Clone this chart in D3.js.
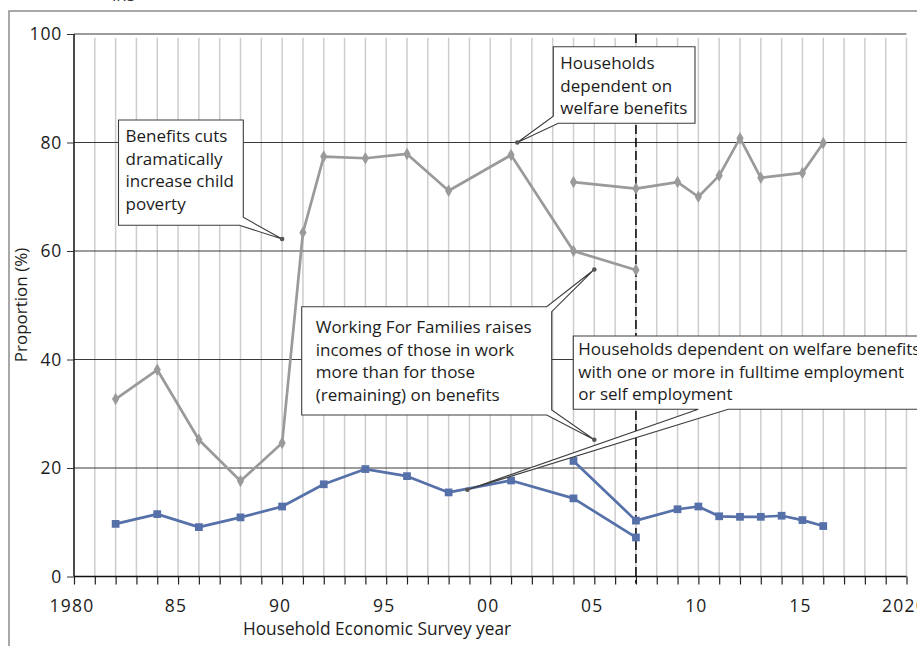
<!DOCTYPE html>
<html><head><meta charset="utf-8">
<script src="https://cdn.jsdelivr.net/npm/d3@7/dist/d3.min.js"></script>
<style>
html,body{margin:0;padding:0;background:#fff;}
svg{display:block;font-family:"Open Sans",sans-serif;}
</style></head>
<body><svg id="c" width="917" height="646"></svg>
<script>
// ---- data ----
const welfareYearsA = [1982,1984,1986,1988,1990,1991,1992,1994,1996,1998,2001,2004,2007];
const welfareValsA  = [32.7,38.1,25.2,17.6,24.6,63.4,77.4,77.1,77.9,71.1,77.7,60.0,56.5];
const welfareYearsB = [2004,2007,2009,2010,2011,2012,2013,2015,2016];
const welfareValsB  = [72.7,71.5,72.7,70.0,73.9,80.8,73.5,74.4,79.9];
const employedYearsA = [1982,1984,1986,1988,1990,1992,1994,1996,1998,2001,2004,2007];
const employedValsA  = [9.7,11.5,9.1,10.9,12.9,17.0,19.8,18.5,15.5,17.7,14.4,7.2];
const employedYearsB = [2004,2007,2009,2010,2011,2012,2013,2014,2015,2016];
const employedValsB  = [21.3,10.3,12.4,12.9,11.1,11.0,11.0,11.2,10.4,9.3];
const xTickYears  = [1980,1985,1990,1995,2000,2005,2010,2015,2020];
const xTickLabels = ["1980","85","90","95","00","05","10","15","2020"];
const yTicks = [0,20,40,60,80,100];
const breakYear = 2007;
const calloutTexts = [
  ["Benefits cuts","dramatically","increase child","poverty"],
  ["Households","dependent on","welfare benefits"],
  ["Working For Families raises","incomes of those in work","more than for those","(remaining) on benefits"],
  ["Households dependent on welfare benefits","with one or more in fulltime employment","or self employment"]
];
const calloutTipYears = [1990, 2001.3, 2005, 2005, 1998.9];
const calloutTipVals  = [62.2, 80.0, 56.6, 25.2, 16.0];

// ---- layout ----
const svg = d3.select("#c");
const x = d3.scaleLinear().domain([1980,2020]).range([74,906.5]);
const y = d3.scaleLinear().domain([0,100]).range([576.5,34]);
const GRAY = "#9a9a9a", BLUE = "#5670a9", INK = "#1c1c1c";

// frame
svg.append("path").attr("d","M9,646 V11 H917").attr("fill","none").attr("stroke","#8c8c8c").attr("stroke-width",1.5);
svg.append("text").attr("x",112).attr("y",1).attr("font-size",17).attr("fill","#333").text("ins");

// vertical gridlines each year
const years = d3.range(1981,2021);
svg.append("g").selectAll("line").data(years).join("line")
  .attr("x1",d=>x(d)).attr("x2",d=>x(d)).attr("y1",y(99.3)).attr("y2",y(0))
  .attr("stroke","#cdcdcd").attr("stroke-width",1.5);

// horizontal gridlines
svg.append("g").selectAll("line").data(yTicks.filter(d=>d>0)).join("line")
  .attr("x1",x(1980)).attr("x2",x(2020)).attr("y1",d=>y(d)).attr("y2",d=>y(d))
  .attr("stroke","#3a3a3a").attr("stroke-width",1.1);

// y axis
const yAxis = d3.axisLeft(y).tickValues(yTicks).tickSize(7).tickPadding(5).tickFormat(d3.format("d"));
const gy = svg.append("g").attr("transform",`translate(${x(1980)},0)`).call(yAxis);
gy.select(".domain").attr("stroke","#111").attr("stroke-width",1.5).attr("d",`M0,${y(100)}V${y(0)}`);
gy.selectAll(".tick line").attr("stroke","#333");
gy.selectAll(".tick text").attr("font-family","Open Sans").attr("font-size",17.5).attr("fill",INK).attr("letter-spacing",0.8);

// x axis
const xAxis = d3.axisBottom(x).tickValues(d3.range(1980,2021)).tickSize(8).tickFormat("");
const gx = svg.append("g").attr("transform",`translate(0,${y(0)})`).call(xAxis);
gx.select(".domain").attr("stroke","#111").attr("stroke-width",1.5).attr("d",`M${x(1980)},0H${x(2020)}`);
gx.selectAll(".tick line").attr("stroke","#222").attr("stroke-width",1.2);
svg.append("g").selectAll("text").data(xTickYears).join("text")
  .attr("x",d=>x(d)-2).attr("y",612).attr("text-anchor","middle")
  .attr("font-size",17.5).attr("fill",INK).attr("letter-spacing",1.2)
  .text((d,i)=>xTickLabels[i]);

// axis titles
svg.append("text").attr("x",377).attr("y",635).attr("text-anchor","middle")
  .attr("font-size",17.3).attr("fill",INK).text("Household Economic Survey year");
svg.append("text").attr("transform","translate(27,305) rotate(-90)").attr("text-anchor","middle")
  .attr("font-size",17).attr("fill",INK).text("Proportion (%)");

// break line
svg.append("line").attr("x1",x(breakYear)).attr("x2",x(breakYear)).attr("y1",y(100)).attr("y2",y(0)+7)
  .attr("stroke","#111").attr("stroke-width",1.6).attr("stroke-dasharray","9,4");

// series
const line = d3.line().x(d=>x(d[0])).y(d=>y(d[1]));
function series(years, vals, color, shape, size){
  const pts = years.map((yr,i)=>[yr, vals[i]]);
  svg.append("path").datum(pts).attr("d",line).attr("fill","none")
    .attr("stroke",color).attr("stroke-width",2.7).attr("stroke-linejoin","round");
  svg.append("g").selectAll("path").data(pts).join("path")
    .attr("transform",d=>`translate(${x(d[0])},${y(d[1])})`)
    .attr("d",d3.symbol().type(shape).size(size)).attr("fill",color);
}
series(welfareYearsA, welfareValsA, GRAY, d3.symbolDiamond, 45);
series(welfareYearsB, welfareValsB, GRAY, d3.symbolDiamond, 45);
series(employedYearsA, employedValsA, BLUE, d3.symbolSquare, 60);
series(employedYearsB, employedValsB, BLUE, d3.symbolSquare, 60);

// callouts
const tip = i => [x(calloutTipYears[i]), y(calloutTipVals[i])];
const boxes = [
  {l:118.5,t:120,r:243.3,b:225.3},
  {l:553.3,t:46.7,r:695,b:123.3},
  {l:301.7,t:306.7,r:551.7,b:415},
  {l:573.3,t:336,r:960,b:409.3}
];
function P(a){return a.map(p=>p.join(",")).join(" L");}
const shapes = [];
{ const B=boxes[0], T=tip(0);
  shapes.push("M"+P([[B.l,B.t],[B.r,B.t],[B.r,B.b-8],T,[B.r-4,B.b],[B.l,B.b]])+"Z"); }
{ const B=boxes[1], T=tip(1);
  shapes.push("M"+P([[B.l,B.t],[B.r,B.t],[B.r,B.b],[B.l+5,B.b],T,[B.l,B.b-7]])+"Z"); }
{ const B=boxes[2], T1=tip(2), T2=tip(3);
  shapes.push("M"+P([[B.l,B.t],[B.r-5,B.t],T1,[B.r,B.t+5],[B.r,B.b-5],T2,[B.r-5,B.b],[B.l,B.b]])+"Z"); }
{ const B=boxes[3], T=tip(4);
  shapes.push("M"+P([[B.l,B.t],[B.r,B.t],[B.r,B.b],[728.3,B.b],T,[698.3,B.b],[B.l,B.b]])+"Z"); }
const txOff = [[7,0],[7,0],[14,0],[5,0]];
const firstBase = [142, 69, 333, 355];
shapes.forEach((d,i)=>{
  svg.append("path").attr("d",d).attr("fill","#fff").attr("stroke","#3c3c3c").attr("stroke-width",1.1);
  const B = boxes[i];
  svg.append("g").selectAll("text").data(calloutTexts[i]).join("text")
    .attr("x",B.l+txOff[i][0]).attr("y",(d,j)=>firstBase[i]+j*22.7)
    .attr("font-size",17).attr("fill",INK).text(d=>d);
});
calloutTipYears.forEach((yr,i)=>{
  const T = tip(i);
  svg.append("circle").attr("cx",T[0]).attr("cy",T[1]).attr("r",2.3).attr("fill","#555");
});
</script></body></html>
